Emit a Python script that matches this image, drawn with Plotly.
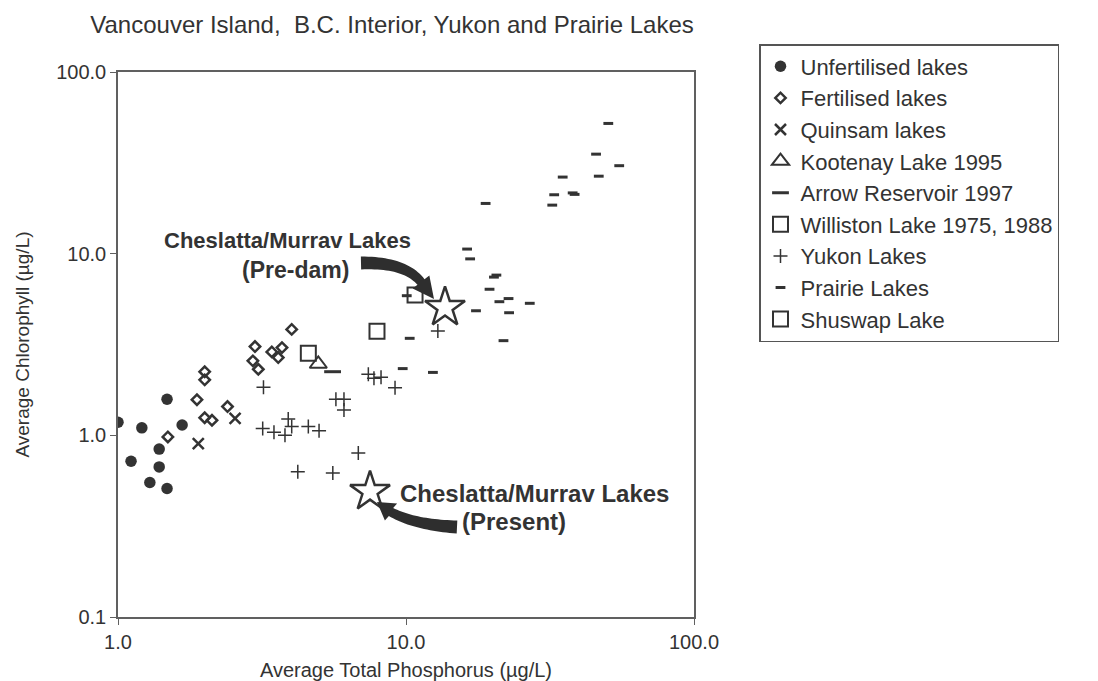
import plotly.graph_objects as go

# ---------------- data ----------------
unfert_tp = [1.00, 1.11, 1.21, 1.29, 1.39, 1.39, 1.48, 1.48, 1.67]
unfert_chl = [1.18, 0.72, 1.10, 0.55, 0.84, 0.67, 1.58, 0.51, 1.14]

fert_tp = [1.49, 1.88, 2.00, 2.00, 2.00, 2.12, 2.40, 2.94, 2.99, 3.07, 3.42, 3.60, 3.71, 4.01]
fert_chl = [0.98, 1.57, 2.24, 2.02, 1.25, 1.21, 1.44, 2.57, 3.08, 2.31, 2.88, 2.68, 3.04, 3.83]

quinsam_tp = [1.90, 2.55]
quinsam_chl = [0.90, 1.24]

kootenay_tp = [4.96]
kootenay_chl = [2.47]

arrow_tp = [5.56]
arrow_chl = [2.24]

williston_tp = [7.93, 10.75]
williston_chl = [3.74, 5.92]

shuswap_tp = [4.58]
shuswap_chl = [2.83]

yukon_tp = [3.20, 3.18, 3.48, 3.80, 3.90, 4.01, 4.58, 4.99, 4.21, 5.57,
            5.71, 6.09, 6.09, 6.83, 7.40, 7.74, 8.19, 9.16, 12.9]
yukon_chl = [1.84, 1.09, 1.04, 1.00, 1.23, 1.12, 1.12, 1.06, 0.63, 0.62,
             1.58, 1.58, 1.38, 0.80, 2.17, 2.06, 2.09, 1.83, 3.75]

prairie_tp = [50.4, 45.7, 55.0, 35.0, 46.7, 32.7, 37.9, 38.5, 32.2, 18.9,
              16.3, 16.7, 20.6, 20.2, 19.5, 21.1, 22.7, 26.9, 17.5, 22.8,
              21.8, 10.3, 9.74, 12.4, 10.06]
prairie_chl = [52.1, 35.3, 30.5, 26.4, 26.7, 21.1, 21.6, 21.2, 18.5, 18.9,
               10.6, 9.36, 7.62, 7.43, 6.37, 5.44, 5.66, 5.33, 4.85, 4.73,
               3.32, 3.42, 2.33, 2.22, 5.87]

cheslatta_tp = [13.66, 7.50]   # pre-dam, present
cheslatta_chl = [5.06, 0.49]

x_ticks = [1, 10, 100]
x_ticktext = ["1.0", "10.0", "100.0"]
y_ticks = [0.1, 1, 10, 100]
y_ticktext = ["0.1", "1.0", "10.0", "100.0"]

# ---------------- styling ----------------
INK = "#333333"
AX = "#606060"
TXT = "#333333"
FONT = "Arial, Liberation Sans, sans-serif"

OFF = 8                      # default page body margin
W, H = 1098 - OFF, 681 - OFF  # figure size
# plot area in page pixels
L, R, T, B = 118, 694, 72, 617


def to_paper(px, py):
    return (px - L) / (R - L), (B - py) / (B - T)


fig = go.Figure()


def add(name, xs, ys, symbol, size, lw, show=True):
    marker = dict(symbol=symbol, size=size, color=INK,
                  line=dict(color=INK, width=lw))
    fig.add_trace(go.Scatter(x=xs, y=ys, mode="markers", name=name,
                             marker=marker, showlegend=show))


add("Unfertilised lakes", unfert_tp, unfert_chl, "circle", 11.5, 0)
add("Fertilised lakes", fert_tp, fert_chl, "diamond-open", 8, 2.5)
add("Quinsam lakes", quinsam_tp, quinsam_chl, "x-thin-open", 11, 2.5)
add("Kootenay Lake 1995", kootenay_tp, kootenay_chl, "triangle-up-open", 15, 2)
add("Arrow Reservoir 1997", arrow_tp, arrow_chl, "line-ew-open", 12, 3)
add("Williston Lake 1975, 1988", williston_tp, williston_chl, "square-open", 15, 2)
add("Yukon Lakes", yukon_tp, yukon_chl, "cross-thin-open", 10, 1.5)
add("Prairie Lakes", prairie_tp, prairie_chl, "line-ew-open", 7, 3)
add("Shuswap Lake", shuswap_tp, shuswap_chl, "square-open", 15, 2)
add("Cheslatta/Murray Lakes", cheslatta_tp, cheslatta_chl, "star-open", 30, 2.5,
    show=False)


# ---------------- curved arrows ----------------
def arrow_path(p0, p1, p2, tip, w0, w1, head_w, n=24):
    left, right = [], []
    for i in range(n + 1):
        t = i / n
        x = (1 - t) ** 2 * p0[0] + 2 * (1 - t) * t * p1[0] + t ** 2 * p2[0]
        y = (1 - t) ** 2 * p0[1] + 2 * (1 - t) * t * p1[1] + t ** 2 * p2[1]
        dx = 2 * (1 - t) * (p1[0] - p0[0]) + 2 * t * (p2[0] - p1[0])
        dy = 2 * (1 - t) * (p1[1] - p0[1]) + 2 * t * (p2[1] - p1[1])
        m = (dx * dx + dy * dy) ** 0.5
        nx, ny = -dy / m, dx / m
        w = (w0 + (w1 - w0) * t) / 2
        left.append((x + nx * w, y + ny * w))
        right.append((x - nx * w, y - ny * w))
    ex, ey = p2
    dx, dy = tip[0] - ex, tip[1] - ey
    m = (dx * dx + dy * dy) ** 0.5
    nx, ny = -dy / m, dx / m
    hw = head_w / 2
    pts = left + [(ex + nx * hw, ey + ny * hw), tip,
                  (ex - nx * hw, ey - ny * hw)] + right[::-1]
    segs = []
    for k, (px, py) in enumerate(pts):
        xp, yp = to_paper(px, py)
        segs.append(("M" if k == 0 else "L") + f"{xp:.5f},{yp:.5f}")
    return " ".join(segs) + " Z"


shapes = [
    dict(type="path", xref="paper", yref="paper",
         path=arrow_path((361, 263), (405, 262), (421, 282), (434, 299), 13, 9, 21),
         fillcolor="#2e2e2e", line=dict(width=0)),
    dict(type="path", xref="paper", yref="paper",
         path=arrow_path((457, 527), (415, 525), (391, 512), (377, 502), 13, 9, 21),
         fillcolor="#2e2e2e", line=dict(width=0)),
]


def label(text, px, py, size=22):
    xp, yp = to_paper(px, py)
    return dict(text=f"<b>{text}</b>", x=xp, y=yp, xref="paper", yref="paper",
                xanchor="left", yanchor="middle", showarrow=False,
                font=dict(family=FONT, size=size, color=TXT))


annotations = [
    label("Cheslatta/Murrav Lakes", 162, 240, 22),
    label("(Pre-dam)", 240, 270, 23),
    label("Cheslatta/Murrav Lakes", 398, 494, 24),
    label("(Present)", 460, 521, 24),
]

fig.update_layout(
    width=W, height=H,
    margin=dict(l=L - OFF, r=W - (R - OFF), t=T - OFF, b=H - (B - OFF), pad=0),
    paper_bgcolor="white", plot_bgcolor="white",
    font=dict(family=FONT, color=TXT, size=20),
    title=dict(text="Vancouver Island,\u00a0 B.C. Interior, Yukon and Prairie Lakes",
               x=(392 - OFF) / W, xanchor="center", xref="container",
               y=1 - (25 - OFF) / H, yanchor="middle", yref="container",
               font=dict(family=FONT, size=24, color=TXT)),
    xaxis=dict(type="log", range=[0, 2], tickvals=x_ticks, ticktext=x_ticktext,
               showgrid=False, zeroline=False, showline=True, linecolor=AX,
               linewidth=1.5, mirror=True, ticks="outside", ticklen=6,
               tickcolor=AX, tickfont=dict(size=20, color=TXT), automargin=False,
               title=dict(text="Average Total Phosphorus (\u00b5g/L)",
                          font=dict(size=20, color=TXT), standoff=14)),
    yaxis=dict(type="log", range=[-1, 2], tickvals=y_ticks, ticktext=y_ticktext,
               showgrid=False, zeroline=False, showline=True, linecolor=AX,
               linewidth=1.5, mirror=True, ticks="outside", ticklen=6,
               tickcolor=AX, tickfont=dict(size=20, color=TXT), automargin=False,
               title=dict(text="Average Chlorophyll (\u00b5g/L)",
                          font=dict(size=19, color=TXT), standoff=22)),
    legend=dict(x=(759 - L) / (R - L), y=(B - 44) / (B - T), xanchor="left",
                yanchor="top", bordercolor="#555555", borderwidth=1.5,
                bgcolor="white", font=dict(family=FONT, size=22, color=TXT),
                itemsizing="trace"),
    shapes=shapes,
    annotations=annotations,
)

fig.write_html("out.html")
